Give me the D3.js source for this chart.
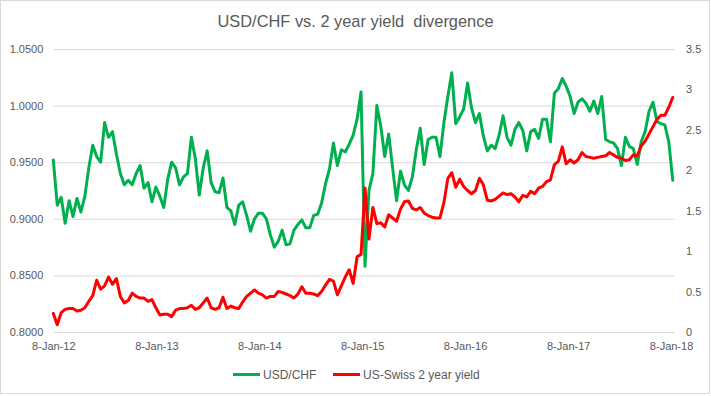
<!DOCTYPE html>
<html>
<head>
<meta charset="utf-8">
<script src="https://d3js.org/d3.v7.min.js"></script>
<style>
    body { margin: 0; background: #ffffff; }
    svg { display: block; font-family: "Liberation Sans", Arial, sans-serif; }
</style>
</head>
<body>
<svg></svg>
<script>
// fortnightly readings, first one on 8-Jan-12
const firstDate = "2012-01-08";
const stepDays = 14;

// USD/CHF (left axis)
const usdChf = [
    0.952, 0.912, 0.919, 0.896, 0.916, 0.902, 0.918, 0.906, 0.920, 0.945,
    0.965, 0.955, 0.950, 0.985, 0.972, 0.977, 0.957, 0.940, 0.930, 0.934,
    0.930, 0.940, 0.947, 0.927, 0.932, 0.915, 0.928, 0.920, 0.910, 0.935,
    0.950, 0.945, 0.930, 0.937, 0.940, 0.972, 0.953, 0.921, 0.945, 0.960,
    0.932, 0.924, 0.923, 0.936, 0.910, 0.907, 0.895, 0.912, 0.915, 0.903,
    0.889, 0.900, 0.905, 0.905, 0.900, 0.886, 0.875, 0.880, 0.890, 0.877,
    0.878, 0.890, 0.895, 0.899, 0.892, 0.892, 0.903, 0.904, 0.914, 0.931,
    0.944, 0.967, 0.947, 0.961, 0.959, 0.966, 0.974, 0.988, 1.012, 0.858,
    0.925, 0.940, 1.000, 0.982, 0.955, 0.975, 0.945, 0.916, 0.942, 0.930,
    0.925, 0.937, 0.961, 0.980, 0.948, 0.970, 0.972, 0.972, 0.955, 0.985,
    1.008, 1.029, 0.984, 0.990, 0.997, 1.020, 0.998, 0.985, 0.993, 0.973,
    0.960, 0.965, 0.962, 0.974, 0.991, 0.972, 0.965, 0.979, 0.985, 0.978,
    0.960, 0.977, 0.979, 0.971, 0.988, 0.988, 0.968, 1.011, 1.015, 1.024,
    1.017, 1.008, 0.993, 1.003, 1.006, 1.002, 0.995, 1.004, 0.993, 1.008,
    0.970, 0.968, 0.967, 0.962, 0.947, 0.972, 0.964, 0.962, 0.948, 0.968,
    0.977, 0.995, 1.003, 0.986, 0.984, 0.983, 0.968, 0.934
];

// US-Swiss 2 year yield spread (right axis)
const yieldSpread = [
    0.23, 0.09, 0.24, 0.28, 0.29, 0.29, 0.26, 0.27, 0.30, 0.38,
    0.45, 0.64, 0.53, 0.57, 0.68, 0.59, 0.66, 0.44, 0.36, 0.39,
    0.48, 0.44, 0.42, 0.42, 0.38, 0.40, 0.30, 0.21, 0.22, 0.22,
    0.19, 0.27, 0.29, 0.29, 0.30, 0.33, 0.28, 0.30, 0.36, 0.42,
    0.30, 0.28, 0.30, 0.43, 0.29, 0.32, 0.30, 0.29, 0.37, 0.44,
    0.48, 0.52, 0.48, 0.46, 0.42, 0.44, 0.44, 0.50, 0.49, 0.47,
    0.45, 0.42, 0.47, 0.56, 0.48, 0.48, 0.47, 0.45, 0.50, 0.58,
    0.65, 0.63, 0.46, 0.57, 0.68, 0.77, 0.60, 0.93, 0.96, 1.78,
    1.15, 1.54, 1.34, 1.35, 1.30, 1.45, 1.41, 1.37, 1.52, 1.61,
    1.62, 1.53, 1.51, 1.54, 1.47, 1.44, 1.42, 1.41, 1.41, 1.60,
    1.90, 1.97, 1.79, 1.89, 1.80, 1.75, 1.71, 1.75, 1.90, 1.82,
    1.63, 1.62, 1.64, 1.68, 1.72, 1.70, 1.71, 1.67, 1.61, 1.69,
    1.67, 1.74, 1.71, 1.78, 1.80, 1.86, 1.88, 2.07, 2.11, 2.29,
    2.08, 2.13, 2.09, 2.13, 2.22, 2.17, 2.16, 2.15, 2.16, 2.17,
    2.18, 2.22, 2.19, 2.16, 2.15, 2.12, 2.13, 2.19, 2.18, 2.30,
    2.36, 2.45, 2.54, 2.63, 2.68, 2.68, 2.78, 2.90
];

const xTickDates = ["2012-01-08", "2013-01-08", "2014-01-08", "2015-01-08",
                    "2016-01-08", "2017-01-08", "2018-01-08"];
const leftTicks = [0.80, 0.85, 0.90, 0.95, 1.00, 1.05];
const rightTicks = [0, 0.5, 1, 1.5, 2, 2.5, 3, 3.5];
const seriesNames = ["USD/CHF", "US-Swiss 2 year yield"];
const titleText = "USD/CHF vs. 2 year yield  divergence";

const parseDate = d3.timeParse("%Y-%m-%d");
const start = parseDate(firstDate);
const dates = usdChf.map((d, i) => d3.timeDay.offset(start, i * stepDays));

const width = 711;
const height = 396;
const margin = { top: 49, right: 36, bottom: 64, left: 53.3 };

const svg = d3.select("svg")
    .attr("width", width)
    .attr("height", height);

// chart border
svg.append("rect")
    .attr("x", 0.5)
    .attr("y", 0.5)
    .attr("width", width - 2)
    .attr("height", height - 3)
    .attr("fill", "#ffffff")
    .attr("stroke", "#d9d9d9");

const x = d3.scaleTime()
    .domain([start, parseDate("2018-01-22")])
    .range([margin.left, width - margin.right]);

const yLeft = d3.scaleLinear()
    .domain([0.80, 1.05])
    .range([height - margin.bottom, margin.top]);

const yRight = d3.scaleLinear()
    .domain([0, 3.5])
    .range([height - margin.bottom, margin.top]);

// gridlines + left labels
const leftAxis = svg.append("g")
    .attr("transform", `translate(${margin.left},0)`)
    .call(d3.axisLeft(yLeft)
        .tickValues(leftTicks)
        .tickFormat(d3.format(".4f"))
        .tickSize(-(width - margin.left - margin.right))
        .tickPadding(10));

leftAxis.select(".domain").remove();
leftAxis.selectAll("line").attr("stroke", "#d9d9d9");
leftAxis.selectAll("text")
    .attr("fill", "#595959")
    .style("font-size", "11px");

const rightAxis = svg.append("g")
    .attr("transform", `translate(${width - margin.right},0)`)
    .call(d3.axisRight(yRight)
        .tickValues(rightTicks)
        .tickFormat(d3.format(""))
        .tickSize(0)
        .tickPadding(11));

rightAxis.select(".domain").remove();
rightAxis.selectAll("text")
    .attr("fill", "#595959")
    .style("font-size", "11px");

const bottomAxis = svg.append("g")
    .attr("transform", `translate(0,${height - margin.bottom})`)
    .call(d3.axisBottom(x)
        .tickValues(xTickDates.map(parseDate))
        .tickFormat(d3.timeFormat("%-d-%b-%y"))
        .tickSize(0)
        .tickPadding(10));

bottomAxis.select(".domain").remove();
bottomAxis.selectAll("text")
    .attr("fill", "#595959")
    .style("font-size", "11px");

// lines
const chfLine = d3.line()
    .x((d, i) => x(dates[i]))
    .y(d => yLeft(d));

const yieldLine = d3.line()
    .x((d, i) => x(dates[i]))
    .y(d => yRight(d));

svg.append("path")
    .datum(usdChf)
    .attr("d", chfLine)
    .attr("fill", "none")
    .attr("stroke", "#00b050")
    .attr("stroke-width", 3)
    .attr("stroke-linejoin", "round")
    .attr("stroke-linecap", "round");

svg.append("path")
    .datum(yieldSpread)
    .attr("d", yieldLine)
    .attr("fill", "none")
    .attr("stroke", "#ff0000")
    .attr("stroke-width", 3)
    .attr("stroke-linejoin", "round")
    .attr("stroke-linecap", "round");

// title
svg.append("text")
    .attr("x", width / 2)
    .attr("y", 27)
    .attr("text-anchor", "middle")
    .style("font-size", "16.4px")
    .style("white-space", "pre")
    .attr("fill", "#595959")
    .text(titleText);

// legend
const legendColors = ["#00b050", "#ff0000"];
const legendX = [233, 333];

const legend = svg.append("g");

seriesNames.forEach((name, i) => {
    legend.append("line")
        .attr("x1", legendX[i])
        .attr("x2", legendX[i] + 27)
        .attr("y1", 374.5)
        .attr("y2", 374.5)
        .attr("stroke", legendColors[i])
        .attr("stroke-width", 3);

    legend.append("text")
        .attr("x", legendX[i] + 30)
        .attr("y", 379)
        .style("font-size", "12px")
        .attr("fill", "#595959")
        .text(name);
});
</script>
</body>
</html>
